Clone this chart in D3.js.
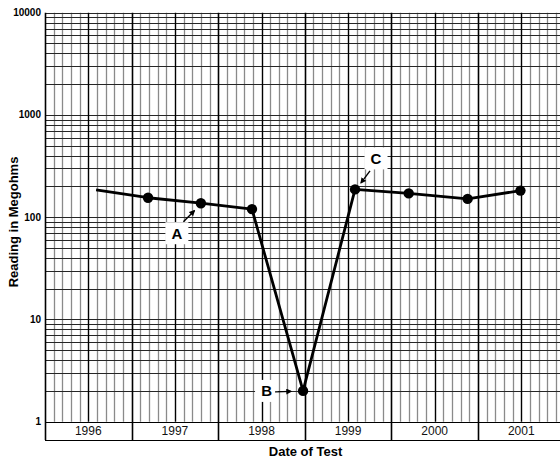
<!DOCTYPE html>
<html>
<head>
<meta charset="utf-8">
<script src="https://cdn.jsdelivr.net/npm/d3@7"></script>
<style>
  body { margin: 0; background: #fff; }
  svg { display: block; font-family: "Liberation Sans", Arial, Helvetica, sans-serif; }
</style>
</head>
<body>
<svg id="chart" width="560" height="463"></svg>
<script>
// readings taken off the chart (date as decimal year, megohms)
const testDates = [1996.59, 1997.19, 1997.8, 1998.39, 1998.98, 1999.58, 2000.2, 2000.88, 2001.49];
const readings = [185, 155, 137, 120, 2, 187, 171, 151, 182];
const years = [1996, 1997, 1998, 1999, 2000, 2001];
const yTicks = [1, 10, 100, 1000, 10000];
// annotation letters: which point, label offset, arrow start/end offsets
const notes = [
  { label: "A", idx: 2, dx: -24, dy: 30, a: [-17.5, 18.5], b: [-6.5, 7.5] },
  { label: "B", idx: 4, dx: -36.5, dy: 0, a: [-28, 1], b: [-12, 0.5] },
  { label: "C", idx: 5, dx: 21, dy: -31, a: [15, -18.5], b: [6, -6.5] }
];

const svg = d3.select("#chart");
const plotLeft = 45, plotTop = 12.7, plotBottom = 421.7, boxBottom = 440;

const x = d3.scaleLinear().domain([1996, 2002]).range([plotLeft, 564.6]);
const y = d3.scaleLog().domain([1, 10000]).range([plotBottom, plotTop]);
const snap = v => Math.round(v) + 0.5;

// horizontal log grid
const hLines = [];
for (let k = 0; k < 4; k++) {
  for (let m = 1; m < 10; m++) hLines.push(m * Math.pow(10, k));
}
hLines.push(10000);

// vertical grid: ten divisions a year
const vMinor = [];
years.forEach(yr => {
  for (let j = 1; j < 10; j++) if (j !== 5) vMinor.push(yr + j / 10);
});
const vMid = years.map(yr => yr + 0.5);

svg.append("g")
  .selectAll("line")
  .data(vMinor)
  .enter()
  .append("line")
  .attr("x1", d => snap(x(d)))
  .attr("x2", d => snap(x(d)))
  .attr("y1", plotTop)
  .attr("y2", plotBottom)
  .attr("stroke", "#8a8a8a")
  .attr("stroke-width", 1.3);

svg.append("g")
  .selectAll("line")
  .data(hLines)
  .enter()
  .append("line")
  .attr("x1", plotLeft)
  .attr("x2", 570)
  .attr("y1", d => snap(y(d)))
  .attr("y2", d => snap(y(d)))
  .attr("stroke", "#262626")
  .attr("stroke-width", 1);

svg.append("g")
  .selectAll("line")
  .data(vMid)
  .enter()
  .append("line")
  .attr("x1", d => snap(x(d)))
  .attr("x2", d => snap(x(d)))
  .attr("y1", plotTop)
  .attr("y2", plotBottom)
  .attr("stroke", "#000")
  .attr("stroke-width", 1.4);

// year boundaries run down through the label box
svg.append("g")
  .selectAll("line")
  .data(years.concat([2002]))
  .enter()
  .append("line")
  .attr("x1", d => snap(x(d)))
  .attr("x2", d => snap(x(d)))
  .attr("y1", plotTop)
  .attr("y2", boxBottom)
  .attr("stroke", "#000")
  .attr("stroke-width", 1.6);

svg.append("line")
  .attr("x1", plotLeft).attr("x2", 570)
  .attr("y1", snap(plotBottom)).attr("y2", snap(plotBottom))
  .attr("stroke", "#000").attr("stroke-width", 1);
svg.append("line")
  .attr("x1", plotLeft).attr("x2", 570)
  .attr("y1", boxBottom + 0.5).attr("y2", boxBottom + 0.5)
  .attr("stroke", "#000").attr("stroke-width", 1);

svg.append("g")
  .selectAll("text")
  .data(years)
  .enter()
  .append("text")
  .attr("x", d => x(d + 0.5))
  .attr("y", (plotBottom + boxBottom) / 2 + 4.5)
  .attr("text-anchor", "middle")
  .attr("font-size", "12px")
  .attr("fill", "#111")
  .text(d => d);

// y tick labels
svg.append("g")
  .selectAll("text")
  .data(yTicks)
  .enter()
  .append("text")
  .attr("x", plotLeft - 4)
  .attr("y", d => y(d) + 3.5)
  .attr("text-anchor", "end")
  .attr("font-size", "10px")
  .attr("font-weight", "bold")
  .text(d => d);

// axis titles
svg.append("text")
  .attr("x", 305.5)
  .attr("y", 456)
  .attr("text-anchor", "middle")
  .attr("font-size", "13px")
  .attr("font-weight", "bold")
  .text("Date of Test");

svg.append("text")
  .attr("transform", "translate(18,222) rotate(-90)")
  .attr("text-anchor", "middle")
  .attr("font-size", "13px")
  .attr("font-weight", "bold")
  .text("Reading in Megohms");

// the readings
const pts = testDates.map((d, i) => ({ date: d, val: readings[i] }));

svg.append("path")
  .datum(pts)
  .attr("fill", "none")
  .attr("stroke", "#000")
  .attr("stroke-width", 2.8)
  .attr("stroke-linejoin", "round")
  .attr("d", d3.line().x(d => x(d.date)).y(d => y(d.val)));

svg.append("g")
  .selectAll("circle")
  .data(pts.slice(1))
  .enter()
  .append("circle")
  .attr("cx", d => x(d.date))
  .attr("cy", d => y(d.val))
  .attr("r", 5.2)
  .attr("fill", "#000");

// annotations
svg.append("defs").append("marker")
  .attr("id", "arrow")
  .attr("viewBox", "0 0 10 10")
  .attr("refX", 8)
  .attr("refY", 5)
  .attr("markerWidth", 6)
  .attr("markerHeight", 6)
  .attr("markerUnits", "userSpaceOnUse")
  .attr("orient", "auto")
  .append("path")
  .attr("d", "M0,0 L10,5 L0,10 Z")
  .attr("fill", "#000");

notes.forEach(n => {
  const px = x(testDates[n.idx]);
  const py = y(readings[n.idx]);
  const lx = px + n.dx, ly = py + n.dy;

  svg.append("rect")
    .attr("x", lx - 11.5)
    .attr("y", ly - 11)
    .attr("width", 23)
    .attr("height", 22)
    .attr("fill", "#fff");

  svg.append("text")
    .attr("x", lx)
    .attr("y", ly + 5.5)
    .attr("text-anchor", "middle")
    .attr("font-size", "15px")
    .attr("font-weight", "bold")
    .text(n.label);

  svg.append("line")
    .attr("x1", px + n.a[0])
    .attr("y1", py + n.a[1])
    .attr("x2", px + n.b[0])
    .attr("y2", py + n.b[1])
    .attr("stroke", "#000")
    .attr("stroke-width", 1.4)
    .attr("marker-end", "url(#arrow)");
});
</script>
</body>
</html>
